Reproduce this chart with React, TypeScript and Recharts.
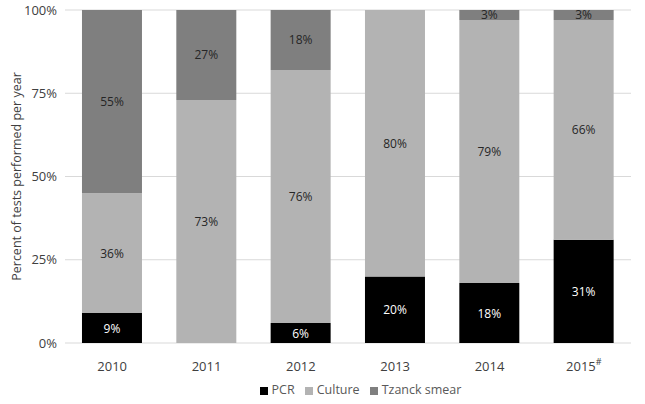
import React from "react";
import {
  Bar,
  BarChart,
  CartesianGrid,
  LabelList,
  Legend,
  XAxis,
  YAxis,
} from "recharts";

const years = ["2010", "2011", "2012", "2013", "2014", "2015"];
const pcr = [9, 0, 6, 20, 18, 31];
const culture = [36, 73, 76, 80, 79, 66];
const tzanck = [55, 27, 18, 0, 3, 3];
const yTicks = [0, 25, 50, 75, 100];
const legendOrder = ["PCR", "Culture", "Tzanck smear"];

const data = years.map((year, i) => ({
  year,
  pcr: pcr[i],
  culture: culture[i],
  tzanck: tzanck[i],
}));

const FONT = "'Open Sans', 'Liberation Sans', sans-serif";

function makeLabel(fill: string) {
  return (props: any) => {
    const { x, y, width, height, value } = props;
    if (!value) return null;
    return (
      <text
        x={x + width / 2}
        y={y + height / 2}
        textAnchor="middle"
        dominantBaseline="central"
        fontSize={12}
        fontFamily={FONT}
        fill={fill}
      >
        {value}%
      </text>
    );
  };
}

function YearTick(props: any) {
  const { x, y, payload } = props;
  const is2015 = payload.value === "2015";
  return (
    <text
      x={x}
      y={y + 20}
      textAnchor="middle"
      fontSize={13}
      fontFamily={FONT}
      fill="#404040"
    >
      {payload.value}
      {is2015 && (
        <tspan dy={-6} fontSize={9}>
          #
        </tspan>
      )}
    </text>
  );
}

export default function App() {
  return (
    <div style={{ position: "absolute", left: 0, top: 0, background: "#fff" }}>
      <BarChart
        width={645}
        height={404}
        data={data}
        barCategoryGap="18%"
        margin={{ top: 10, right: 14, left: 0, bottom: 6 }}
      >
        <CartesianGrid stroke="#d9d9d9" vertical={false} />
        <XAxis
          dataKey="year"
          axisLine={false}
          tickLine={false}
          tick={<YearTick />}
          height={38}
        />
        <YAxis
          domain={[0, 100]}
          ticks={yTicks}
          tickFormatter={(v) => `${v}%`}
          axisLine={false}
          tickLine={false}
          width={65}
          tick={{ fontSize: 13, fill: "#404040", fontFamily: FONT }}
          label={{
            value: "Percent of tests performed per year",
            angle: -90,
            position: "insideLeft",
            dx: 12,
            dy: 0,
            style: {
              textAnchor: "middle",
              fontSize: 12.5,
              fill: "#404040",
              fontFamily: FONT,
            },
          }}
        />
        <Legend
          verticalAlign="bottom"
          iconType="square"
          iconSize={8}
          itemSorter={(item: any) => legendOrder.indexOf(item.value)}
          wrapperStyle={{
            fontSize: 12.5,
            fontFamily: FONT,
            color: "#595959",
            paddingLeft: 50,
          }}
          formatter={(value) => <span style={{ color: "#595959" }}>{value}</span>}
        />
        <Bar
          dataKey="pcr"
          name="PCR"
          stackId="a"
          fill="#000000"
          isAnimationActive={false}
        >
          <LabelList dataKey="pcr" content={makeLabel("#ffffff")} />
        </Bar>
        <Bar
          dataKey="culture"
          name="Culture"
          stackId="a"
          fill="#b3b3b3"
          isAnimationActive={false}
        >
          <LabelList dataKey="culture" content={makeLabel("#262626")} />
        </Bar>
        <Bar
          dataKey="tzanck"
          name="Tzanck smear"
          stackId="a"
          fill="#7f7f7f"
          isAnimationActive={false}
        >
          <LabelList dataKey="tzanck" content={makeLabel("#262626")} />
        </Bar>
      </BarChart>
    </div>
  );
}
